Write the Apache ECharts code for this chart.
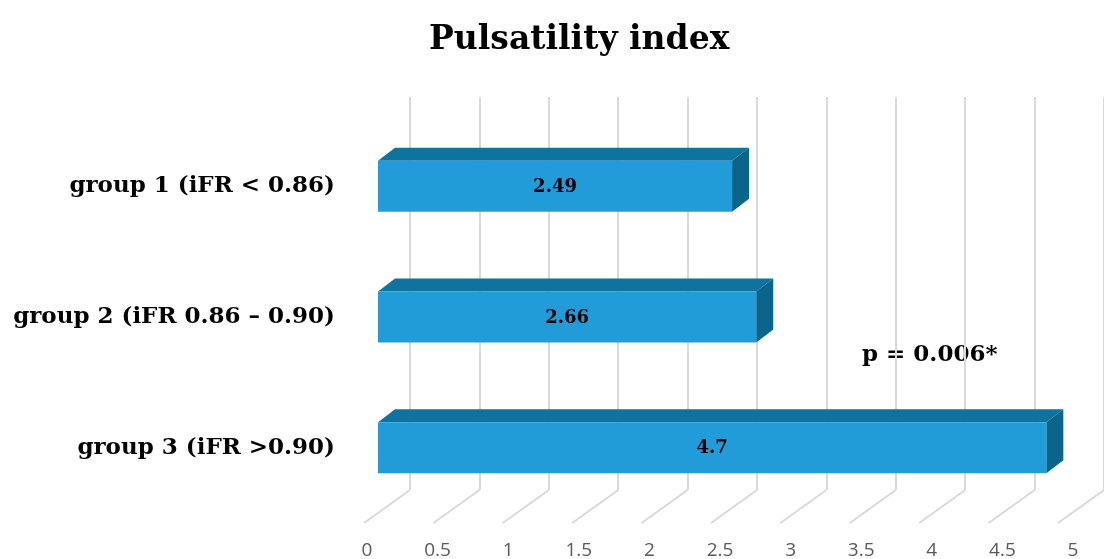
<!DOCTYPE html>
<html>
<head>
<meta charset="utf-8">
<script src="https://cdn.jsdelivr.net/npm/echarts@6/dist/echarts.min.js"></script>
<style>
html,body{margin:0;padding:0;background:#fff;}
#main{width:1104px;height:559px;}
</style>
</head>
<body>
<div id="main"></div>
<script>
// data
var categories = ['group 1 (iFR < 0.86)', 'group 2 (iFR 0.86 \u2013 0.90)', 'group 3 (iFR >0.90)'];
var values = [2.49, 2.66, 4.7];
var ticks = [0, 0.5, 1, 1.5, 2, 2.5, 3, 3.5, 4, 4.5, 5];
var pText = 'p = 0.006*';

var serif = '"DejaVu Serif", "Liberation Serif", serif';
var myChart = echarts.init(document.getElementById('main'));

// 3D bar: front face + top + side
function renderBar(params, api) {
    var start = api.coord([0, api.value(1)]);
    var end = api.coord([api.value(0), api.value(1)]);
    var h = 51, dx = 17, dy = -13;
    var x0 = start[0], x1 = end[0], y0 = start[1] - h / 2, y1 = start[1] + h / 2;
    return {
        type: 'group',
        children: [
            {type: 'polygon', shape: {points: [[x0, y0], [x1, y0], [x1 + dx, y0 + dy], [x0 + dx, y0 + dy]]},
                style: {fill: '#0f73a0'}},
            {type: 'polygon', shape: {points: [[x1, y0], [x1 + dx, y0 + dy], [x1 + dx, y1 + dy], [x1, y1]]},
                style: {fill: '#0b6489'}},
            {type: 'rect', shape: {x: x0, y: y0, width: x1 - x0, height: h},
                style: {fill: '#229cd9'}},
            {type: 'text', x: (x0 + x1) / 2, y: start[1] + 1,
                style: {text: String(api.value(0)), fill: '#000', font: 'bold 18px ' + serif,
                    align: 'center', verticalAlign: 'middle'}}
        ]
    };
}

// floor lines of the 3D wall
function renderFloor(params, api) {
    var top = api.coord([api.value(0), 0]);
    var bottom = params.coordSys.y + params.coordSys.height;
    return {
        type: 'line',
        shape: {x1: top[0], y1: bottom, x2: top[0] - 46, y2: bottom + 33},
        style: {stroke: '#d9d9d9', lineWidth: 2}
    };
}

var option = {
    animation: false,
    title: {
        text: 'Pulsatility index',
        left: 424,
        top: 19,
        textStyle: {fontFamily: serif, fontWeight: 'bold', fontSize: 33, color: '#000'}
    },
    graphic: [{
        type: 'text', left: 862, top: 344,
        style: {text: pText, font: 'bold 23px ' + serif, fill: '#000'}
    }],
    grid: [
        {left: 410, top: 97, width: 710, height: 393},   // back wall
        {left: 378, top: 121, width: 711, height: 392},  // bars
        {left: 367, top: 523, width: 706, height: 1}     // front labels
    ],
    xAxis: [
        {type: 'value', gridIndex: 0, min: 0, max: 5, interval: 0.5,
            axisLine: {show: false}, axisTick: {show: false}, axisLabel: {show: false},
            splitLine: {show: true, lineStyle: {color: '#d9d9d9', width: 2}}},
        {type: 'value', gridIndex: 1, min: 0, max: 5, interval: 0.5, show: false},
        {type: 'value', gridIndex: 2, min: 0, max: 5, interval: 0.5,
            axisLine: {show: false}, axisTick: {show: false}, splitLine: {show: false},
            axisLabel: {margin: 18, color: '#595959', fontSize: 19, fontFamily: 'Open Sans'}}
    ],
    yAxis: [
        {type: 'value', gridIndex: 0, min: 0, max: 1, show: false},
        {type: 'category', gridIndex: 1, data: categories, inverse: true,
            axisLine: {show: false}, axisTick: {show: false},
            axisLabel: {margin: 43, color: '#000', fontFamily: serif, fontWeight: 'bold', fontSize: 23}},
        {type: 'value', gridIndex: 2, show: false}
    ],
    series: [
        {type: 'custom', xAxisIndex: 0, yAxisIndex: 0, renderItem: renderFloor,
            data: ticks.map(function (t) { return [t]; }), silent: true, clip: false},
        {type: 'custom', xAxisIndex: 1, yAxisIndex: 1, renderItem: renderBar,
            encode: {x: 0, y: 1},
            data: values.map(function (v, i) { return [v, i]; }), z: 5}
    ]
};
myChart.setOption(option);
window.onresize = function () { myChart.resize(); };
</script>
</body>
</html>
